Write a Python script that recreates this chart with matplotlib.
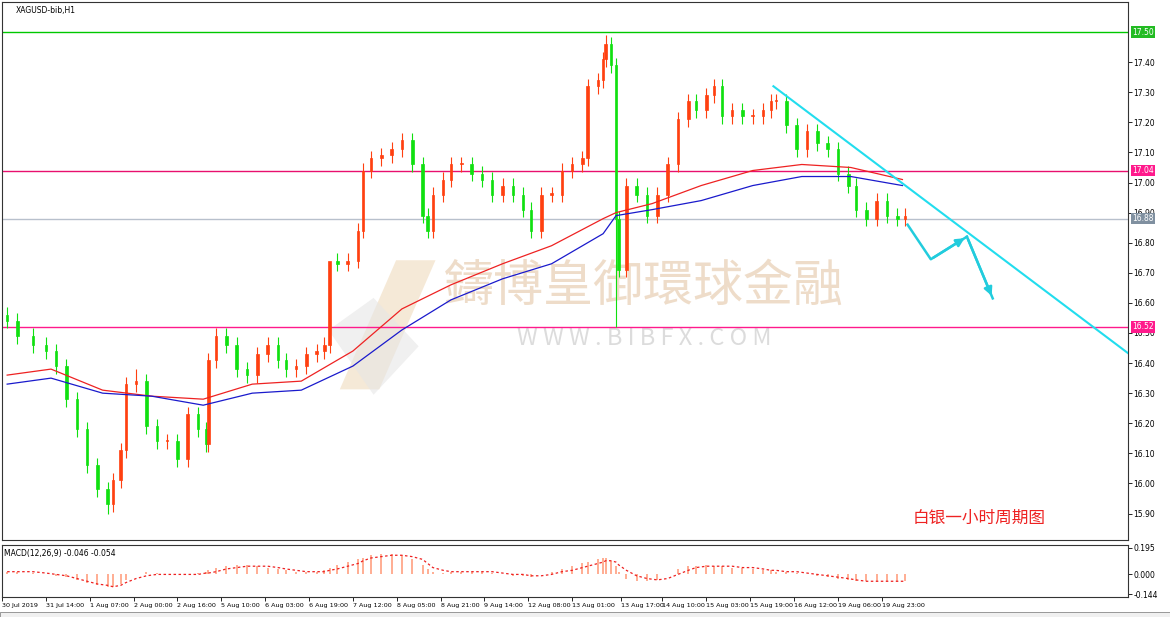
import matplotlib
matplotlib.use("Agg")
import matplotlib.pyplot as plt
from matplotlib.patches import Polygon, Rectangle
import numpy as np

plt.rcParams['font.family'] = ['Noto Sans CJK SC', 'DejaVu Sans']

bars = [2,6,12,17,21,25,29,33,37,41,
        43,46,48,52,56,60,64,68,72,76,
        79,80,83,87,91,95,99,103,107,110,
        114,118,122,125,127,130,134,138,140,143,
        147,151,155,159,163,165,167,171,174,178,
        182,186,190,194,198,202,205,209,213,217,
        221,225,227,231,233,234,236,238,239,242,
        246,250,254,258,262,266,269,273,276,279,
        283,287,291,295,298,300,304,308,312,316,
        320,324,328,331,335,339,343,347,350]
closes = [16.54,16.49,16.46,16.44,16.39,16.28,16.18,16.06,15.98,15.93,
          16.01,16.11,16.33,16.34,16.19,16.14,16.14,16.08,16.23,16.18,
          16.13,16.41,16.49,16.46,16.38,16.36,16.43,16.46,16.41,16.38,
          16.39,16.43,16.44,16.46,16.74,16.73,16.74,16.84,17.04,17.08,
          17.09,17.11,17.14,17.06,16.89,16.84,16.96,17.01,17.06,17.06,
          17.03,17.01,16.96,16.99,16.96,16.91,16.84,16.96,16.96,17.04,
          17.06,17.08,17.32,17.34,17.41,17.46,17.39,16.88,16.71,16.99,
          16.96,16.89,16.96,17.06,17.21,17.27,17.24,17.29,17.32,17.22,
          17.24,17.22,17.22,17.24,17.27,17.27,17.19,17.11,17.17,17.13,
          17.11,17.03,16.99,16.91,16.88,16.94,16.89,16.88,16.89]
first_open = 16.56
low_overrides = {67: 16.52, 9: 15.90}
high_overrides = {65: 17.49, 34: 16.62, 13: 16.38}

hist = [0.02,0.02,0.01,0.0,-0.01,-0.02,-0.04,-0.06,-0.08,-0.09,
        -0.09,-0.07,-0.04,0.0,0.02,0.01,0.0,0.0,0.0,0.01,
        0.02,0.03,0.05,0.06,0.07,0.07,0.06,0.05,0.04,0.03,
        0.02,0.02,0.02,0.03,0.05,0.07,0.09,0.11,0.12,0.14,
        0.15,0.15,0.14,0.11,0.07,0.04,0.02,0.01,0.02,0.02,
        0.02,0.02,0.01,0.0,-0.01,-0.01,-0.02,0.0,0.02,0.04,
        0.06,0.08,0.09,0.11,0.12,0.12,0.10,0.06,0.02,-0.03,
        -0.05,-0.05,-0.04,0.0,0.04,0.06,0.06,0.07,0.06,0.06,
        0.05,0.05,0.04,0.03,0.03,0.02,0.02,0.01,0.0,-0.01,
        -0.02,-0.03,-0.04,-0.05,-0.05,-0.05,-0.05,-0.05,-0.05]
signal = [0.02,0.02,0.02,0.01,0.0,-0.01,-0.03,-0.05,-0.07,-0.08,
          -0.09,-0.08,-0.06,-0.03,-0.01,0.0,0.0,0.0,0.0,0.0,
          0.01,0.01,0.02,0.04,0.05,0.06,0.06,0.06,0.05,0.04,
          0.03,0.02,0.02,0.02,0.03,0.04,0.06,0.08,0.10,0.12,
          0.13,0.14,0.14,0.13,0.11,0.08,0.05,0.03,0.02,0.02,
          0.02,0.02,0.02,0.01,0.0,0.0,-0.01,-0.01,0.0,0.02,
          0.03,0.05,0.06,0.08,0.09,0.10,0.10,0.09,0.07,0.03,
          -0.01,-0.03,-0.04,-0.03,0.0,0.03,0.05,0.06,0.06,0.06,
          0.06,0.05,0.05,0.04,0.03,0.03,0.02,0.02,0.01,0.0,
          -0.01,-0.02,-0.03,-0.04,-0.05,-0.05,-0.05,-0.05,-0.05]

ma_bars = [2,19,39,58,78,97,116,136,155,174,194,213,233,238,252,271,291,310,329,349]
ma_red = [16.36,16.38,16.31,16.29,16.28,16.33,16.34,16.44,16.58,16.66,16.73,16.79,16.88,16.90,16.93,16.99,17.04,17.06,17.05,17.01]
ma_blue = [16.33,16.35,16.30,16.29,16.26,16.30,16.31,16.39,16.51,16.61,16.68,16.73,16.83,16.89,16.91,16.94,16.99,17.02,17.02,16.99]

levels = [17.50, 17.04, 16.88, 16.52]
level_colors = ['#00c800', '#e8106e', '#b8c0cc', '#ff1a8c']
level_label_colors = ['#22bb22', '#ff1a8c', '#8090a0', '#ff1a8c']

trend_bars = [299, 440]
trend_prices = [17.32, 16.41]
arrow1 = [(351, 16.86), (360, 16.745), (374, 16.82)]
arrow2 = [(374, 16.82), (384, 16.615)]

xtick_labels = ['30 Jul 2019','31 Jul 14:00','1 Aug 07:00','2 Aug 00:00','2 Aug 16:00','5 Aug 10:00',
                '6 Aug 03:00','6 Aug 19:00','7 Aug 12:00','8 Aug 05:00','8 Aug 21:00','9 Aug 14:00',
                '12 Aug 08:00','13 Aug 01:00','13 Aug 17:00','14 Aug 10:00','15 Aug 03:00','15 Aug 19:00',
                '16 Aug 12:00','19 Aug 06:00','19 Aug 23:00']
xtick_bars = [0,17,34,51,68,85,102,119,136,153,170,187,204,221,240,256,273,290,307,324,341]

fig = plt.figure(figsize=(11.7, 6.17), dpi=100)
W, H = 1170, 617
ax = fig.add_axes([2/W, 1-540/H, 1126/W, 538/H])
mx = fig.add_axes([2/W, 1-597/H, 1126/W, 52/H])
XMAX = 1126/2.58
for a in (ax, mx):
    a.set_xlim(0, XMAX)
    for s in a.spines.values():
        s.set_color('#333333'); s.set_linewidth(0.8)
ax.set_ylim(15.812, 17.60)

up_c, dn_c = '#ff4010', '#10e010'
opens = [first_open] + closes[:-1]
for i, (b, o, c) in enumerate(zip(bars, opens, closes)):
    col = up_c if c >= o else dn_c
    hi = high_overrides.get(i, max(o, c) + 0.025)
    lo = low_overrides.get(i, min(o, c) - 0.025)
    ax.vlines(b, lo, hi, color=col, lw=0.8, zorder=3)
    ax.add_patch(Rectangle((b - 0.5, min(o, c)), 1.0, max(abs(c - o), 0.004),
                           facecolor=col, edgecolor=col, lw=0.5, zorder=3))

ax.plot(ma_bars, ma_red, color='#ee2222', lw=0.9, zorder=4)
ax.plot(ma_bars, ma_blue, color='#1a1acc', lw=0.9, zorder=4)

for lv, lc, llc in zip(levels, level_colors, level_label_colors):
    ax.axhline(lv, color=lc, lw=1.0, zorder=2)
    ax.text(1.004, lv, f'{lv:.2f}', transform=ax.get_yaxis_transform(), fontsize=5.5,
            color='white', va='center', ha='left', family='DejaVu Sans',
            bbox=dict(boxstyle='square,pad=0.15', fc=llc, ec='none'), zorder=6, clip_on=False)

ax.plot(trend_bars, trend_prices, color='#22ddee', lw=1.5, zorder=5)
for seg in (arrow1, arrow2):
    xs = [p[0] for p in seg]; ys = [p[1] for p in seg]
    ax.plot(xs, ys, color='#22ccdd', lw=1.8, zorder=5)
    ax.annotate('', xy=seg[-1], xytext=seg[-2],
                arrowprops=dict(arrowstyle='-|>', color='#22ccdd', lw=1.8, mutation_scale=12), zorder=5)

# watermark
ax.add_patch(Polygon([(0.300, 0.28), (0.335, 0.28), (0.385, 0.52), (0.350, 0.52)], closed=True,
                     transform=ax.transAxes, fc='#f2e0c6', ec='none', alpha=0.7, zorder=1))
ax.add_patch(Polygon([(0.29, 0.39), (0.33, 0.45), (0.37, 0.36), (0.33, 0.27)], closed=True,
                     transform=ax.transAxes, fc='#e6e6e6', ec='none', alpha=0.6, zorder=1))
ax.text(0.57, 0.47, '鑄博皇御環球金融', transform=ax.transAxes, fontsize=36, color='#ead4bc',
        ha='center', va='center', alpha=0.8, zorder=1)
ax.text(0.57, 0.375, 'W W W . B I B F X . C O M', transform=ax.transAxes, fontsize=17, color='#dcdcdc',
        ha='center', va='center', zorder=1)
ax.text(0.868, 0.04, '白银一小时周期图', transform=ax.transAxes, fontsize=12, color='#ee2222',
        ha='center', va='center', zorder=6)
ax.text(0.012, 0.993, 'XAGUSD-bib,H1', transform=ax.transAxes, fontsize=5.5, ha='left', va='top',
        family='DejaVu Sans')

ax.yaxis.tick_right()
ticks = [round(15.9 + 0.1*k, 2) for k in range(16)]
ax.set_yticks(ticks)
ax.set_yticklabels([f'{t:.2f}' for t in ticks], fontsize=5.5, family='DejaVu Sans')
ax.tick_params(axis='y', length=3, pad=1, width=0.6)
ax.set_xticks([])

mx.vlines(bars, 0, hist, color='#ffa080', lw=1.2, zorder=2)
mx.plot(bars, signal, color='#ee2020', lw=0.9, ls=(0, (2, 2)), zorder=3)
mx.set_ylim(-0.165, 0.215)
mx.yaxis.tick_right()
mx.set_yticks([0.195, 0.0, -0.144])
mx.set_yticklabels(['0.195', '0.000', '-0.144'], fontsize=5.5, family='DejaVu Sans')
mx.tick_params(axis='y', length=3, pad=1, width=0.6)
mx.set_xticks(xtick_bars)
mx.set_xticklabels(xtick_labels, fontsize=4.6, ha='left', family='DejaVu Sans')
mx.tick_params(axis='x', length=3, pad=1, width=0.6)
mx.text(0.002, 0.93, 'MACD(12,26,9) -0.046 -0.054', transform=mx.transAxes, fontsize=5.5,
        ha='left', va='top', family='DejaVu Sans')

fig.add_artist(Rectangle((0, 0), 1, 5/H, transform=fig.transFigure, fc='#f0f0f0', ec='#888888', lw=0.6))

fig.savefig('out.png', dpi=100)
